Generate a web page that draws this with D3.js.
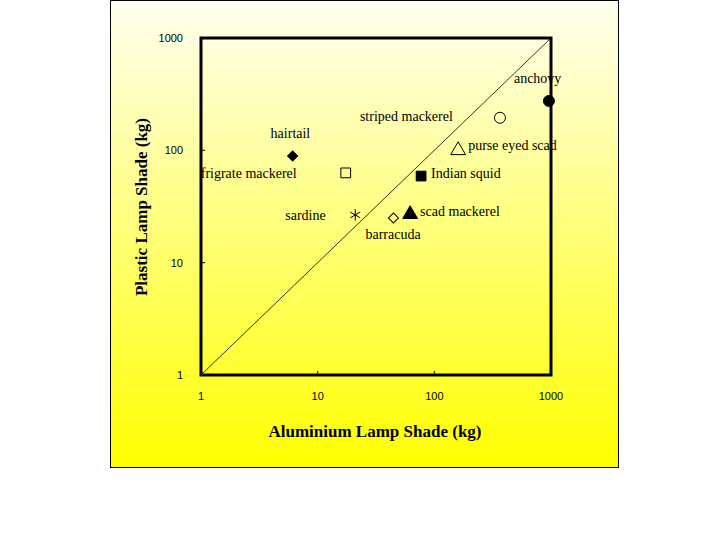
<!DOCTYPE html>
<html><head><meta charset="utf-8">
<script src="https://cdn.jsdelivr.net/npm/d3@7"></script>
<style>body{margin:0;background:#fff}</style>
</head><body>
<script>
const names = ['anchovy', 'striped mackerel', 'purse eyed scad', 'hairtail', 'frigrate mackerel', 'Indian squid', 'sardine', 'barracuda', 'scad mackerel'];
const aluminium = [960, 365, 160, 6.1, 17.4, 77, 21, 44.6, 62];
const plastic = [275, 195, 100, 89, 63, 59, 26.6, 25, 27];
const symbols = ['circleF', 'circle', 'triangle', 'diamondF', 'square', 'squareF', 'asterisk', 'diamond', 'triangleF'];
// label anchor offsets in px (label, dx, dy)
const labelPos = [[-35, -23], [-140, -2], [10, -5], [-22, -23], [-145, 0], [10, -3], [-70, 0], [-28, 16], [10, -3]];
const ticks = [1, 10, 100, 1000];

const svg = d3.select('body').append('svg').attr('width', 720).attr('height', 540);
const grad = svg.append('defs').append('linearGradient').attr('id', 'bg')
  .attr('x1', 0).attr('y1', 0).attr('x2', 0).attr('y2', 1);
grad.append('stop').attr('offset', 0).attr('stop-color', '#fffff0');
grad.append('stop').attr('offset', 1).attr('stop-color', '#ffff00');
svg.append('rect').attr('x', 110.5).attr('y', 0.5).attr('width', 508).attr('height', 467)
  .attr('fill', 'url(#bg)').attr('stroke', '#000').attr('stroke-width', 1);

const x = d3.scaleLog().domain([1, 1000]).range([201, 551]);
const y = d3.scaleLog().domain([1, 1000]).range([375, 38]);

const g = svg.append('g');
g.append('line').attr('x1', x(1)).attr('y1', y(1)).attr('x2', x(1000)).attr('y2', y(1000))
  .attr('stroke', '#000').attr('stroke-width', 0.8);
g.append('rect').attr('x', x(1)).attr('y', y(1000)).attr('width', x(1000) - x(1)).attr('height', y(1) - y(1000))
  .attr('fill', 'none').attr('stroke', '#000').attr('stroke-width', 3);

ticks.forEach(t => {
  g.append('line').attr('x1', x(t)).attr('x2', x(t)).attr('y1', y(1)).attr('y2', y(1) - 4).attr('stroke', '#000');
  g.append('line').attr('x1', x(1)).attr('x2', x(1) + 4).attr('y1', y(t)).attr('y2', y(t)).attr('stroke', '#000');
  g.append('text').attr('x', x(t)).attr('y', 400).attr('text-anchor', 'middle')
    .attr('font-family', 'Liberation Sans, Arial').attr('font-size', 11).text(t);
  g.append('text').attr('x', 183).attr('y', y(t) + 4).attr('text-anchor', 'end')
    .attr('font-family', 'Liberation Sans, Arial').attr('font-size', 11).text(t);
});

const sym = {
  circle: d3.symbolCircle, circleF: d3.symbolCircle, square: d3.symbolSquare, squareF: d3.symbolSquare,
  triangle: d3.symbolTriangle, triangleF: d3.symbolTriangle, diamond: d3.symbolSquare, diamondF: d3.symbolSquare,
  asterisk: d3.symbolAsterisk
};
names.forEach((n, i) => {
  const s = symbols[i];
  const filled = s.endsWith('F');
  const size = s === 'asterisk' ? 90 : (s.startsWith('diamond') ? 50 : 95);
  const rot = s.startsWith('diamond') ? ' rotate(45)' : '';
  g.append('path').attr('d', d3.symbol().type(sym[s]).size(size)())
    .attr('transform', `translate(${x(aluminium[i])},${y(plastic[i])})${rot}`)
    .attr('fill', filled ? '#000' : 'none').attr('stroke', '#000').attr('stroke-width', 1);
  g.append('text').attr('x', x(aluminium[i]) + labelPos[i][0]).attr('y', y(plastic[i]) + labelPos[i][1] + 5)
    .attr('font-family', 'Liberation Serif, Times New Roman').attr('font-size', 14)
    .text(n);
});

svg.append('text').attr('x', 375).attr('y', 437).attr('text-anchor', 'middle')
  .attr('font-family', 'Liberation Serif, Times New Roman').attr('font-size', 17).attr('font-weight', 'bold')
  .text('Aluminium Lamp Shade (kg)');
svg.append('text').attr('transform', 'translate(147,207) rotate(-90)').attr('text-anchor', 'middle')
  .attr('font-family', 'Liberation Serif, Times New Roman').attr('font-size', 17).attr('font-weight', 'bold')
  .text('Plastic Lamp Shade (kg)');
</script>
</body></html>
